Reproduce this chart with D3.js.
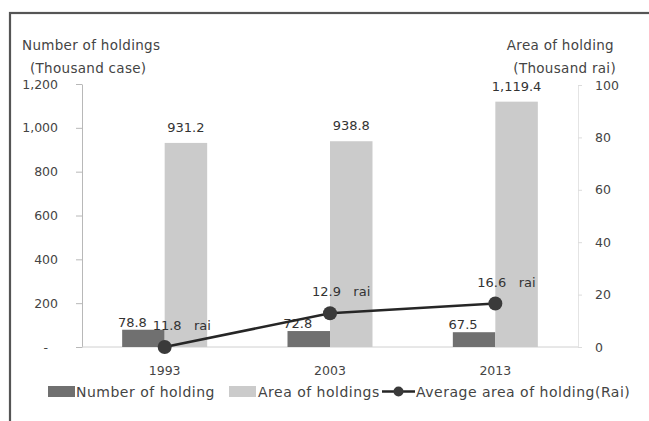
<!DOCTYPE html>
<html>
<head>
<meta charset="utf-8">
<script src="https://cdn.jsdelivr.net/npm/d3@7"></script>
<style>
  html, body { margin: 0; padding: 0; background: #fff; }
  svg { display: block; font-family: "DejaVu Sans", sans-serif; }
</style>
</head>
<body>
<div id="chart"></div>
<script>
// data
const years       = ["1993", "2003", "2013"];
const numHoldings = [78.8, 72.8, 67.5];        // thousand case (left axis)
const areaHold    = [931.2, 938.8, 1119.4];    // thousand rai (left axis)
const avgLabels   = [11.8, 12.9, 16.6];        // rai, printed labels
const avgPlotted  = [0, 12.9, 16.6];           // where the markers sit in the original (1993 at zero)
const leftTicks   = [0, 200, 400, 600, 800, 1000, 1200];
const rightTicks  = [0, 20, 40, 60, 80, 100];

const width  = 649,
      height = 421;
const margin = { top: 85, right: 71, bottom: 74, left: 82 };

const DARK  = "#707070";
const LIGHT = "#cbcbcb";
const TEXT  = "#444";

const svg = d3.select("#chart").append("svg")
  .attr("width", width)
  .attr("height", height);

/* outer frame (runs off the right / bottom of the picture) */
svg.append("rect")
  .attr("x", 10).attr("y", 13)
  .attr("width", 700).attr("height", 500)
  .attr("fill", "none")
  .attr("stroke", "#555")
  .attr("stroke-width", 2.2);

/* scales */
const x = d3.scaleBand(years, [margin.left, width - margin.right]);
const sub = d3.scaleBand(["num", "area"], [0, 85]);
const yL = d3.scaleLinear([0, 1200], [height - margin.bottom, margin.top - 1]);
const yR = d3.scaleLinear([0, 100],  [height - margin.bottom, margin.top]);

const cx = d => x(d) + x.bandwidth() / 2;
const x0 = d => cx(d) - 42.5;

/* axes */
const axL = svg.append("g")
  .attr("transform", `translate(${margin.left},0)`)
  .call(d3.axisLeft(yL)
    .tickValues(leftTicks)
    .tickSizeInner(6).tickSizeOuter(0)
    .tickPadding(18)
    .tickFormat(d => d === 0 ? "-" : d3.format(",")(d)));
axL.select(".domain").attr("stroke", "#b8b8b8");
axL.selectAll(".tick line").attr("stroke", "#b8b8b8");
axL.selectAll("text")
  .attr("font-size", 12.5)
  .attr("fill", TEXT)
  .attr("font-family", "DejaVu Sans")
  .attr("dx", d => d === 0 ? -10 : 0);

const axR = svg.append("g")
  .attr("transform", `translate(${width - margin.right},0)`)
  .call(d3.axisRight(yR)
    .tickValues(rightTicks)
    .tickSizeInner(4).tickSizeOuter(0)
    .tickPadding(13));
axR.select(".domain").attr("stroke", "#e4e4e4");
axR.selectAll(".tick line").attr("stroke", "#dcdcdc");
axR.selectAll("text")
  .attr("font-size", 12.5)
  .attr("fill", TEXT)
  .attr("font-family", "DejaVu Sans");

/* baseline */
svg.append("line")
  .attr("x1", margin.left).attr("x2", width - margin.right)
  .attr("y1", yL(0)).attr("y2", yL(0))
  .attr("stroke", "#d0d0d0");

/* category labels */
svg.append("g")
  .selectAll("text")
  .data(years)
  .join("text")
    .attr("x", d => cx(d))
    .attr("y", yL(0) + 28)
    .attr("text-anchor", "middle")
    .attr("font-size", 12.5)
    .attr("fill", TEXT)
    .text(d => d);

/* bars */
svg.append("g")
  .selectAll("rect")
  .data(years)
  .join("rect")
    .attr("x", d => x0(d) + sub("num"))
    .attr("y", (d, i) => yL(numHoldings[i]))
    .attr("width", sub.bandwidth())
    .attr("height", (d, i) => yL(0) - yL(numHoldings[i]))
    .attr("fill", DARK);

svg.append("g")
  .selectAll("rect")
  .data(years)
  .join("rect")
    .attr("x", d => x0(d) + sub("area"))
    .attr("y", (d, i) => yL(areaHold[i]))
    .attr("width", sub.bandwidth())
    .attr("height", (d, i) => yL(0) - yL(areaHold[i]))
    .attr("fill", LIGHT);

/* bar labels */
svg.append("g")
  .selectAll("text")
  .data(years)
  .join("text")
    .attr("x", d => x0(d) + sub("num") + sub.bandwidth() / 2 - 11)
    .attr("y", (d, i) => yL(numHoldings[i]) - 3)
    .attr("text-anchor", "middle")
    .attr("font-size", 13)
    .attr("fill", "#333")
    .text((d, i) => d3.format(",.1f")(numHoldings[i]));

svg.append("g")
  .selectAll("text")
  .data(years)
  .join("text")
    .attr("x", d => x0(d) + sub("area") + sub.bandwidth() / 2)
    .attr("y", (d, i) => yL(areaHold[i]) - 11)
    .attr("text-anchor", "middle")
    .attr("font-size", 13)
    .attr("fill", "#333")
    .text((d, i) => d3.format(",.1f")(areaHold[i]));

/* average area line */
const line = d3.line()
  .x((d, i) => cx(years[i]))
  .y(d => yR(d));

svg.append("path")
  .datum(avgPlotted)
  .attr("d", line)
  .attr("fill", "none")
  .attr("stroke", "#262626")
  .attr("stroke-width", 2.6);

svg.append("g")
  .selectAll("circle")
  .data(avgPlotted)
  .join("circle")
    .attr("cx", (d, i) => cx(years[i]))
    .attr("cy", d => yR(d))
    .attr("r", 7)
    .attr("fill", "#3a3a3a");

svg.append("g")
  .selectAll("text")
  .data(avgPlotted)
  .join("text")
    .attr("x", (d, i) => cx(years[i]) - (i === 0 ? 12 : 18))
    .attr("y", d => yR(d) - 17)
    .attr("font-size", 13)
    .attr("fill", "#333")
    .attr("xml:space", "preserve")
    .text((d, i) => d3.format(".1f")(avgLabels[i]) + "   rai");

/* axis titles */
const titles = svg.append("g")
  .attr("font-size", 13.5)
  .attr("letter-spacing", 0.3)
  .attr("fill", TEXT);
titles.append("text").attr("x", 22).attr("y", 50).text("Number of holdings");
titles.append("text").attr("x", 30).attr("y", 73).text("(Thousand case)");
titles.append("text").attr("x", 614).attr("y", 50).attr("text-anchor", "end").text("Area of holding");
titles.append("text").attr("x", 616).attr("y", 73).attr("text-anchor", "end").text("(Thousand rai)");

/* legend */
const legend = svg.append("g")
  .attr("font-size", 14)
  .attr("letter-spacing", 0.5)
  .attr("fill", TEXT);

legend.append("rect")
  .attr("x", 48).attr("y", 386).attr("width", 27).attr("height", 11)
  .attr("fill", DARK);
legend.append("text").attr("x", 76).attr("y", 397).text("Number of holding");

legend.append("rect")
  .attr("x", 229).attr("y", 386).attr("width", 27).attr("height", 11)
  .attr("fill", LIGHT);
legend.append("text").attr("x", 258).attr("y", 397).text("Area of holdings");

legend.append("line")
  .attr("x1", 382).attr("x2", 415).attr("y1", 391.5).attr("y2", 391.5)
  .attr("stroke", "#262626").attr("stroke-width", 2.6);
legend.append("circle")
  .attr("cx", 398.5).attr("cy", 391.5).attr("r", 5)
  .attr("fill", "#3a3a3a");
legend.append("text").attr("x", 416).attr("y", 397).text("Average area of holding(Rai)");
</script>
</body>
</html>
